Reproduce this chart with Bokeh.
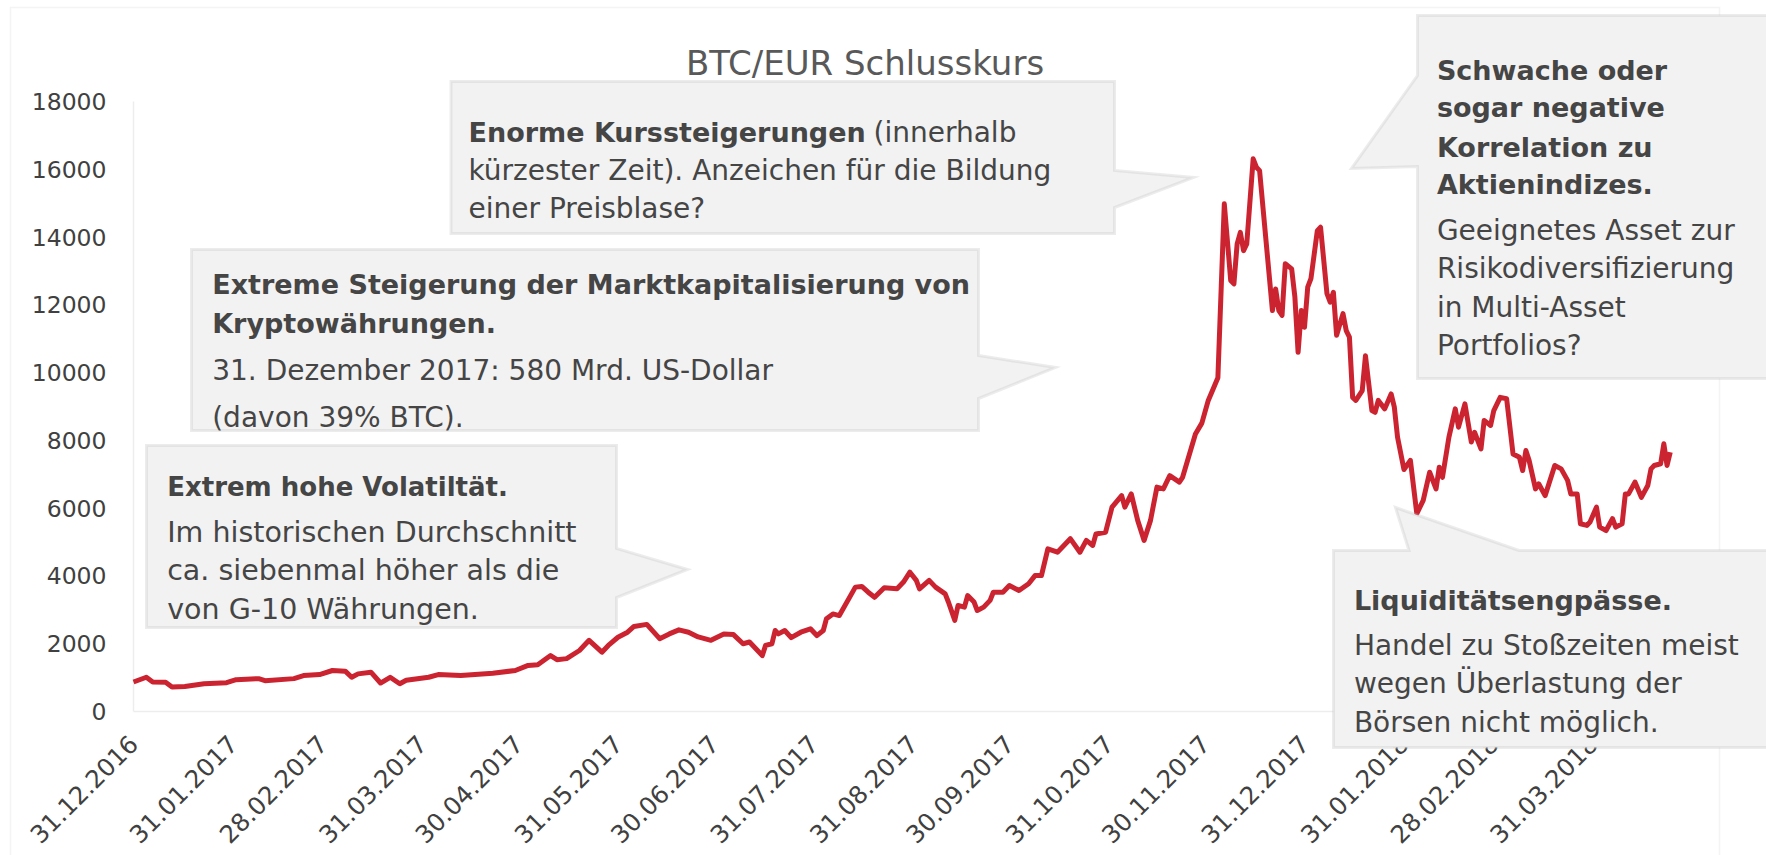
import math
import pandas as pd
from bokeh.plotting import figure
from bokeh.models import (Range1d, FixedTicker, DatetimeTickFormatter, PolyAnnotation,
                          Label, ColumnDataSource)
from bokeh.embed import file_html
from bokeh.resources import INLINE

# ---------------- data ----------------
dates = [
    "2016-12-31", "2017-01-04", "2017-01-06", "2017-01-10", "2017-01-12", "2017-01-16", "2017-01-22",
    "2017-01-29", "2017-02-01", "2017-02-08", "2017-02-10", "2017-02-19", "2017-02-22", "2017-02-27",
    "2017-03-03", "2017-03-07", "2017-03-09", "2017-03-11", "2017-03-15", "2017-03-18", "2017-03-21",
    "2017-03-24", "2017-03-26", "2017-04-02", "2017-04-05", "2017-04-12", "2017-04-22", "2017-04-29",
    "2017-05-03", "2017-05-06", "2017-05-10", "2017-05-12", "2017-05-15", "2017-05-19", "2017-05-22",
    "2017-05-26", "2017-05-28", "2017-05-31", "2017-06-03", "2017-06-05", "2017-06-09", "2017-06-13",
    "2017-06-16", "2017-06-19", "2017-06-22", "2017-06-25", "2017-06-29", "2017-07-03", "2017-07-06",
    "2017-07-09", "2017-07-11", "2017-07-13", "2017-07-15", "2017-07-16", "2017-07-18", "2017-07-19",
    "2017-07-20", "2017-07-22", "2017-07-24", "2017-07-27", "2017-07-30", "2017-08-01", "2017-08-03",
    "2017-08-04", "2017-08-06", "2017-08-08", "2017-08-13", "2017-08-15", "2017-08-17", "2017-08-19",
    "2017-08-22", "2017-08-26", "2017-08-28", "2017-08-30", "2017-09-01", "2017-09-02", "2017-09-05",
    "2017-09-07", "2017-09-10", "2017-09-11", "2017-09-13", "2017-09-14", "2017-09-16", "2017-09-17",
    "2017-09-19", "2017-09-20", "2017-09-22", "2017-09-24", "2017-09-25", "2017-09-28", "2017-09-30",
    "2017-10-03", "2017-10-06", "2017-10-08", "2017-10-10", "2017-10-12", "2017-10-15", "2017-10-19",
    "2017-10-22", "2017-10-24", "2017-10-26", "2017-10-27", "2017-10-30", "2017-11-01", "2017-11-04",
    "2017-11-05", "2017-11-07", "2017-11-09", "2017-11-11", "2017-11-13", "2017-11-15", "2017-11-17",
    "2017-11-19", "2017-11-22", "2017-11-23", "2017-11-27", "2017-11-29", "2017-12-01", "2017-12-04",
    "2017-12-06", "2017-12-08", "2017-12-09", "2017-12-10", "2017-12-11", "2017-12-12", "2017-12-13",
    "2017-12-15", "2017-12-16", "2017-12-17", "2017-12-21", "2017-12-22", "2017-12-23", "2017-12-24",
    "2017-12-25", "2017-12-27", "2017-12-28", "2017-12-29", "2017-12-30", "2017-12-31", "2018-01-01",
    "2018-01-02", "2018-01-04", "2018-01-05", "2018-01-07", "2018-01-08", "2018-01-09", "2018-01-10",
    "2018-01-12", "2018-01-13", "2018-01-14", "2018-01-15", "2018-01-16", "2018-01-18", "2018-01-19",
    "2018-01-21", "2018-01-22", "2018-01-23", "2018-01-25", "2018-01-27", "2018-01-28", "2018-01-29",
    "2018-01-31", "2018-02-02", "2018-02-04", "2018-02-06", "2018-02-08", "2018-02-10", "2018-02-11",
    "2018-02-12", "2018-02-14", "2018-02-16", "2018-02-17", "2018-02-19", "2018-02-21", "2018-02-22",
    "2018-02-24", "2018-02-25", "2018-02-27", "2018-02-28", "2018-03-02", "2018-03-04", "2018-03-06",
    "2018-03-08", "2018-03-09", "2018-03-10", "2018-03-11", "2018-03-13", "2018-03-14", "2018-03-16",
    "2018-03-19", "2018-03-21", "2018-03-23", "2018-03-24", "2018-03-26", "2018-03-27", "2018-03-29",
    "2018-03-30", "2018-04-01", "2018-04-02", "2018-04-04", "2018-04-06", "2018-04-07", "2018-04-09",
    "2018-04-10", "2018-04-11", "2018-04-13", "2018-04-15", "2018-04-17", "2018-04-18", "2018-04-19",
    "2018-04-21", "2018-04-22", "2018-04-23", "2018-04-24",
]
btc_eur = [
    870, 1010, 870, 860, 720, 740, 820,
    850, 940, 970, 910, 970, 1060, 1090,
    1210, 1190, 1010, 1110, 1160, 840, 1010,
    820, 920, 1010, 1090, 1060, 1130, 1210,
    1360, 1380, 1650, 1530, 1560, 1800, 2100,
    1750, 1950, 2190, 2340, 2510, 2570, 2150,
    2290, 2410, 2340, 2200, 2100, 2290, 2270,
    2000, 2050, 1850, 1650, 1950, 2000, 2390,
    2290, 2390, 2180, 2340, 2440, 2240, 2390,
    2740, 2880, 2830, 3670, 3690, 3520, 3370,
    3650, 3620, 3820, 4110, 3870, 3620, 3870,
    3670, 3470, 3230, 2690, 3130, 3080, 3420,
    3230, 2980, 3080, 3280, 3520, 3520, 3720,
    3570, 3770, 4010, 4010, 4800, 4700, 5100,
    4700, 5050, 4900, 5240, 5290, 6030, 6370,
    6030, 6420, 5640, 5050, 5640, 6620, 6570,
    6960, 6770, 6910, 8190, 8510, 9180, 9850,
    14980, 12720, 12620, 13800, 14140, 13600, 13800,
    16310, 16060, 15960, 11830, 12470, 11830, 11690,
    13210, 13060, 12230, 10600, 11830, 11340, 12520,
    12770, 14190, 14290, 12330, 12080, 12370, 11100,
    11740, 11240, 11050, 9270, 9180, 9470, 10500,
    8880, 8830, 9180, 8930, 9370, 8980, 8090,
    7140, 7410, 5840, 6230, 7060, 6570, 7210,
    6910, 8090, 8930, 8390, 9080, 7950, 8240,
    7750, 8590, 8440, 8880, 9270, 9230, 7600,
    7500, 7110, 7700, 7410, 6570, 6720, 6370,
    7260, 7160, 6820, 6420, 6420, 5540, 5490,
    5590, 6030, 5440, 5340, 5690, 5440, 5540,
    6420, 6420, 6770, 6320, 6670, 7160, 7260,
    7310, 7900, 7260, 7650,
]
tick_dates = [
    "2016-12-31", "2017-01-31", "2017-02-28", "2017-03-31", "2017-04-30", "2017-05-31",
    "2017-06-30", "2017-07-31", "2017-08-31", "2017-09-30", "2017-10-31", "2017-11-30",
    "2017-12-31", "2018-01-31", "2018-02-28", "2018-03-31",
]
y_ticks = [0, 2000, 4000, 6000, 8000, 10000, 12000, 14000, 16000, 18000]
x_start, x_end = "2016-12-31", "2018-04-30"
y_start, y_end = 0, 18000

title_text = "BTC/EUR Schlusskurs"
note_a_bold = "Enorme Kurssteigerungen"
note_a_rest = ["(innerhalb", "kürzester Zeit). Anzeichen für die Bildung", "einer Preisblase?"]
note_b_bold = ["Extreme Steigerung der Marktkapitalisierung von", "Kryptowährungen."]
note_b_rest = ["31. Dezember 2017: 580 Mrd. US-Dollar", "(davon 39% BTC)."]
note_c_bold = ["Extrem hohe Volatiltät."]
note_c_rest = ["Im historischen Durchschnitt", "ca. siebenmal höher als die", "von G-10 Währungen."]
note_d_bold = ["Schwache oder", "sogar negative", "Korrelation zu", "Aktienindizes."]
note_d_rest = ["Geeignetes Asset zur", "Risikodiversifizierung", "in Multi-Asset", "Portfolios?"]
note_e_bold = ["Liquiditätsengpässe."]
note_e_rest = ["Handel zu Stoßzeiten meist", "wegen Überlastung der", "Börsen nicht möglich."]

# ---------------- layout ----------------
# The frame covers the whole canvas; the axes sit at fixed locations inside it.
W, H = 1766, 855
LEFT, TOP, FW, FH = 133, 101, 1556, 610   # pixel box of the data area
FONT = "DejaVu Sans"
TXT = "#454545"

def ms(d):
    return pd.Timestamp(d).value / 1e6

X0, X1 = ms(x_start), ms(x_end)
MS_PX = (X1 - X0) / FW
V_PX = (y_end - y_start) / FH
XL, XR = X0 - LEFT * MS_PX, X0 + (W - LEFT) * MS_PX
YT = y_end + TOP * V_PX
YB = y_start - (H - TOP - FH) * V_PX

def X(px):
    return XL + px * MS_PX

def Y(py):
    return YT - py * V_PX

p = figure(width=W, height=H, min_border=0, x_axis_type="datetime",
           output_backend="svg", toolbar_location=None,
           x_range=Range1d(XL, XR), y_range=Range1d(YB, YT))
p.background_fill_color = "white"
p.border_fill_color = "white"
p.outline_line_color = None
p.grid.grid_line_color = None

fmt = "%d.%m.%Y"
p.xaxis.ticker = FixedTicker(ticks=[ms(d) for d in tick_dates])
p.xaxis.formatter = DatetimeTickFormatter(days=fmt, months=fmt, years=fmt, hours=fmt,
                                          hourmin=fmt, minutes=fmt, minsec=fmt, seconds=fmt,
                                          milliseconds=fmt, microseconds=fmt)
p.xaxis.major_label_orientation = math.pi / 4
p.xaxis.fixed_location = y_start
p.xaxis.bounds = (X0, X1)
p.yaxis.ticker = FixedTicker(ticks=y_ticks)
p.yaxis.fixed_location = X0
p.yaxis.bounds = (y_start, y_end)
for ax in (p.xaxis[0], p.yaxis[0]):
    ax.level = "underlay"
    ax.major_tick_line_color = None
    ax.minor_tick_line_color = None
    ax.axis_line_color = "#EDEDED"
    ax.axis_line_width = 1.5
    ax.major_label_text_font = FONT
    ax.major_label_text_color = "#404040"
p.xaxis.major_label_text_font_size = "24.5px"
p.yaxis.major_label_text_font_size = "23.5px"
p.xaxis.major_label_standoff = 22
p.yaxis.major_label_standoff = 21

src = ColumnDataSource(dict(date=pd.to_datetime(dates), close=btc_eur))
p.line("date", "close", source=src, line_color="#CB2430", line_width=5, line_join="round")

def poly(pts, fill, line, lw):
    return PolyAnnotation(xs=[X(a) for a, b in pts], ys=[Y(b) for a, b in pts],
                          fill_color=fill if fill else "white", fill_alpha=1.0 if fill else 0.0,
                          line_color=line, line_width=lw, line_join="miter", level="overlay")

# outer chart border
p.add_layout(poly([(10, 7), (1719, 7), (1719, 880), (10, 880)], None, "#D9D9D9", 1.5))

CF, CL = "#F2F2F2", "#BFBFBF"
callouts = [
    [(450.5, 81), (1114, 81), (1114, 170), (1193, 177), (1114, 207), (1114, 233), (450.5, 233)],
    [(191, 249), (978, 249), (978, 355), (1055, 367), (978, 398), (978, 430), (191, 430)],
    [(146, 445), (616, 445), (616, 548), (687, 569), (616, 597), (616, 627), (146, 627)],
    [(1417, 15), (1780, 15), (1780, 378), (1417, 378), (1417, 166), (1351, 168), (1417, 75)],
    [(1333, 550), (1408.5, 550), (1395, 507), (1518.5, 550), (1780, 550), (1780, 747), (1333, 747)],
]
for pts in callouts:
    p.add_layout(poly(pts, CF, CL, 3))

def text(px, py, s, bold=False, size=None, color=TXT, align="left"):
    p.add_layout(Label(x=X(px), y=Y(py), text=s, text_font=FONT,
                       text_font_size=size or ("27px" if bold else "28px"),
                       text_font_style="bold" if bold else "normal",
                       text_color=color, text_align=align, text_baseline="alphabetic",
                       level="overlay"))

text(864.5, 62, title_text, size="34px", color="#595959", align="center")

# A
text(468, 131.5, note_a_bold, bold=True)
text(873, 131.5, note_a_rest[0])
text(468, 170, note_a_rest[1])
text(468, 208, note_a_rest[2])
# B
for s, y in zip(note_b_bold, [284, 323.3]):
    text(211.7, y, s, bold=True)
for s, y in zip(note_b_rest, [370, 416.7]):
    text(211.7, y, s)
# C
text(166.7, 486.7, note_c_bold[0], bold=True, size="26px")
for s, y in zip(note_c_rest, [531.7, 570, 609]):
    text(166.7, y, s, size="28.5px")
# D
for s, y in zip(note_d_bold, [70, 107.3, 146.7, 184.3]):
    text(1436.4, y, s, bold=True)
for s, y in zip(note_d_rest, [230, 268.3, 306.7, 345]):
    text(1436.4, y, s)
# E
text(1353.4, 600, note_e_bold[0], bold=True)
for s, y in zip(note_e_rest, [645, 683.3, 721.7]):
    text(1353.4, y, s)

open("out.html", "w").write(file_html(p, INLINE))
